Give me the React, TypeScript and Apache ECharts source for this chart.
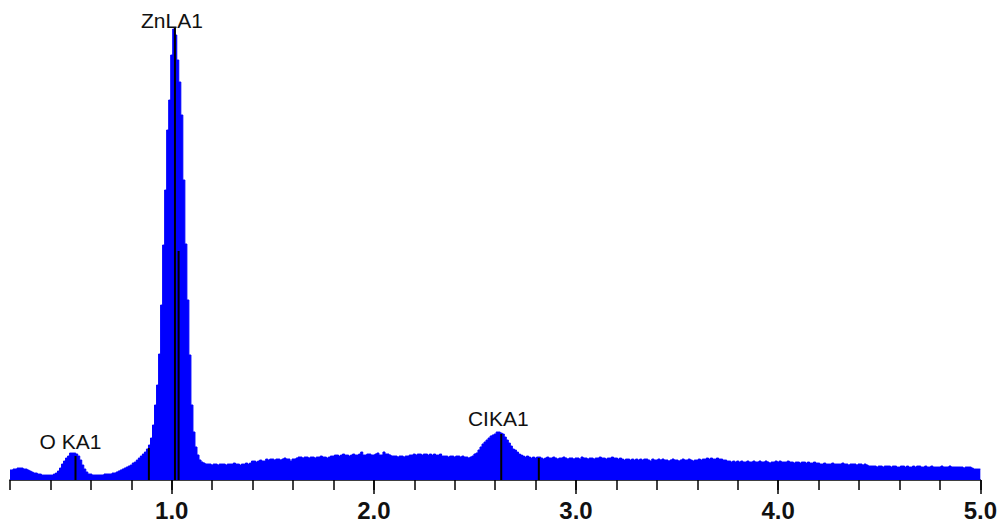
import React, { useEffect, useRef } from "react";
import * as echarts from "echarts";

// Spectrum channels: first channel energy (keV) and channel width (keV)
const ENERGY_START = 0.2;
const CHANNEL_WIDTH = 0.01;

// Counts per channel (0.20 keV .. 5.00 keV)
const COUNTS: number[] = [
  10, 10, 11, 11, 12, 12, 12, 11, 11, 10,
  9, 8, 7, 7, 6, 6, 5, 5, 5, 5,
  5, 5, 6, 7, 9, 12, 16, 19, 22, 24,
  27, 27, 27, 26, 24, 20, 15, 11, 8, 6,
  6, 5, 5, 5, 5, 5, 5, 6, 6, 6,
  6, 7, 7, 8, 9, 10, 11, 12, 13, 14,
  15, 17, 18, 20, 22, 24, 26, 28, 31, 35,
  42, 55, 75, 95, 126, 175, 235, 290, 350, 380,
  425, 451, 445, 420, 398, 365, 300, 236, 180, 125,
  75, 48, 33, 25, 20, 18, 17, 16, 16, 16,
  15, 16, 16, 15, 16, 16, 16, 15, 16, 16,
  16, 17, 16, 16, 15, 16, 16, 17, 16, 17,
  19, 19, 18, 19, 20, 19, 19, 21, 20, 21,
  21, 20, 21, 21, 20, 21, 22, 21, 21, 19,
  21, 21, 22, 23, 23, 22, 23, 23, 22, 23,
  23, 22, 23, 23, 24, 23, 23, 22, 23, 24,
  24, 25, 25, 24, 25, 26, 25, 25, 24, 25,
  26, 25, 25, 26, 28, 25, 25, 26, 26, 25,
  25, 26, 27, 25, 25, 28, 26, 26, 25, 24,
  24, 24, 23, 24, 24, 23, 24, 24, 25, 25,
  26, 25, 26, 26, 25, 26, 26, 25, 26, 25,
  26, 25, 25, 26, 24, 24, 24, 23, 24, 24,
  23, 24, 24, 23, 24, 23, 23, 22, 23, 24,
  26, 27, 30, 33, 36, 38, 40, 42, 44, 45,
  46, 48, 48, 47, 46, 43, 40, 37, 34, 31,
  30, 28, 26, 25, 24, 23, 24, 23, 22, 23,
  22, 23, 23, 22, 21, 22, 23, 22, 22, 23,
  22, 21, 22, 22, 23, 22, 21, 22, 22, 21,
  22, 22, 21, 23, 22, 22, 21, 22, 22, 21,
  22, 22, 23, 22, 22, 21, 22, 22, 23, 22,
  22, 21, 22, 21, 20, 21, 21, 20, 21, 20,
  21, 20, 21, 20, 21, 21, 20, 19, 21, 20,
  20, 21, 20, 21, 20, 20, 19, 20, 21, 20,
  20, 19, 20, 21, 20, 20, 21, 20, 19, 20,
  20, 21, 20, 21, 21, 22, 21, 22, 21, 21,
  22, 21, 21, 20, 20, 19, 19, 18, 19, 18,
  19, 18, 19, 18, 18, 19, 18, 18, 19, 18,
  18, 19, 18, 18, 19, 18, 17, 18, 18, 19,
  18, 19, 18, 18, 18, 19, 18, 18, 17, 18,
  18, 17, 18, 18, 17, 18, 17, 17, 18, 17,
  17, 16, 16, 17, 16, 16, 16, 17, 16, 16,
  16, 16, 17, 16, 16, 15, 16, 16, 16, 15,
  16, 16, 15, 16, 15, 14, 14, 14, 14, 13,
  14, 14, 13, 14, 14, 14, 13, 14, 14, 13,
  13, 14, 14, 13, 14, 13, 13, 14, 13, 14,
  14, 13, 13, 14, 13, 13, 14, 13, 13, 13,
  13, 14, 13, 13, 13, 14, 13, 13, 13, 13,
  13, 13, 12, 13, 13, 13, 12, 11, 11, 11,
  11,
];

// Element marker lines (energy keV, height in counts, label)
const LINE_ENERGIES = [0.524, 0.887, 1.016, 1.034, 2.63, 2.816];
const LINE_HEIGHTS = [24, 32, 452, 229, 46, 22];
const LINE_LABELS = ["O KA1", "", "ZnLA1", "", "CIKA1", ""];

// Axis ticks
const MINOR_TICKS = [
  0.2, 0.4, 0.6, 0.8, 1.0, 1.2, 1.4, 1.6, 1.8, 2.0, 2.2, 2.4, 2.6, 2.8, 3.0,
  3.2, 3.4, 3.6, 3.8, 4.0, 4.2, 4.4, 4.6, 4.8, 5.0,
];
const MAJOR_TICKS = [1.0, 2.0, 3.0, 4.0, 5.0];

const FONT = "'Liberation Sans', Arial, sans-serif";

export default function App() {
  const ref = useRef<HTMLDivElement>(null);

  useEffect(() => {
    document.body.style.margin = "0";
    if (!ref.current) return;
    const chart = echarts.init(ref.current, undefined, { renderer: "svg" });

    const spectrum = COUNTS.map((c, i) => [ENERGY_START + i * CHANNEL_WIDTH, c]);

    const labelLayout: Record<string, { distance: number; offset: number[] }> = {
      "O KA1": { distance: 4, offset: [-5, 0] },
      ZnLA1: { distance: -3, offset: [-3, 0] },
      CIKA1: { distance: 5, offset: [-3, 0] },
    };

    const lines = LINE_ENERGIES.map((e, i) => {
      const name = LINE_LABELS[i];
      const item: any = { value: [e, LINE_HEIGHTS[i]], name };
      if (name) {
        item.label = {
          show: true,
          position: "top",
          formatter: name,
          distance: labelLayout[name].distance,
          offset: labelLayout[name].offset,
          fontSize: 21,
          fontFamily: FONT,
          color: "#111",
        };
      }
      return item;
    });

    chart.setOption({
      animation: false,
      backgroundColor: "#ffffff",
      grid: { left: 10, right: 5, top: 20, bottom: 46, containLabel: false },
      xAxis: [
        {
          type: "value",
          min: 0.2,
          max: 5.0,
          axisLine: { show: true, lineStyle: { color: "#000", width: 1.5 } },
          axisTick: {
            show: true,
            customValues: MINOR_TICKS,
            length: 10,
            lineStyle: { color: "#000", width: 1.5 },
          },
          axisLabel: { show: false },
          splitLine: { show: false },
        },
        {
          type: "value",
          min: 0.2,
          max: 5.0,
          position: "bottom",
          axisLine: { show: false },
          axisTick: {
            show: true,
            customValues: MAJOR_TICKS,
            length: 14,
            lineStyle: { color: "#000", width: 1.5 },
          },
          axisLabel: {
            show: true,
            customValues: MAJOR_TICKS,
            formatter: (v: number) => v.toFixed(1),
            fontSize: 24,
            fontWeight: "bold",
            fontFamily: FONT,
            color: "#111",
            margin: 18,
          },
          splitLine: { show: false },
        },
      ],
      yAxis: {
        type: "value",
        min: 0,
        max: 460,
        show: false,
        splitLine: { show: false },
      },
      series: [
        {
          type: "line",
          xAxisIndex: 0,
          data: spectrum,
          step: "middle",
          symbol: "none",
          lineStyle: { color: "#0000ff", width: 1 },
          areaStyle: { color: "#0000ff", opacity: 1 },
          z: 2,
        },
        {
          type: "bar",
          xAxisIndex: 0,
          data: lines,
          barWidth: 2,
          itemStyle: { color: "#000" },
          z: 3,
        },
      ],
    });

    return () => chart.dispose();
  }, []);

  return <div ref={ref} style={{ width: 1000, height: 526 }} />;
}
